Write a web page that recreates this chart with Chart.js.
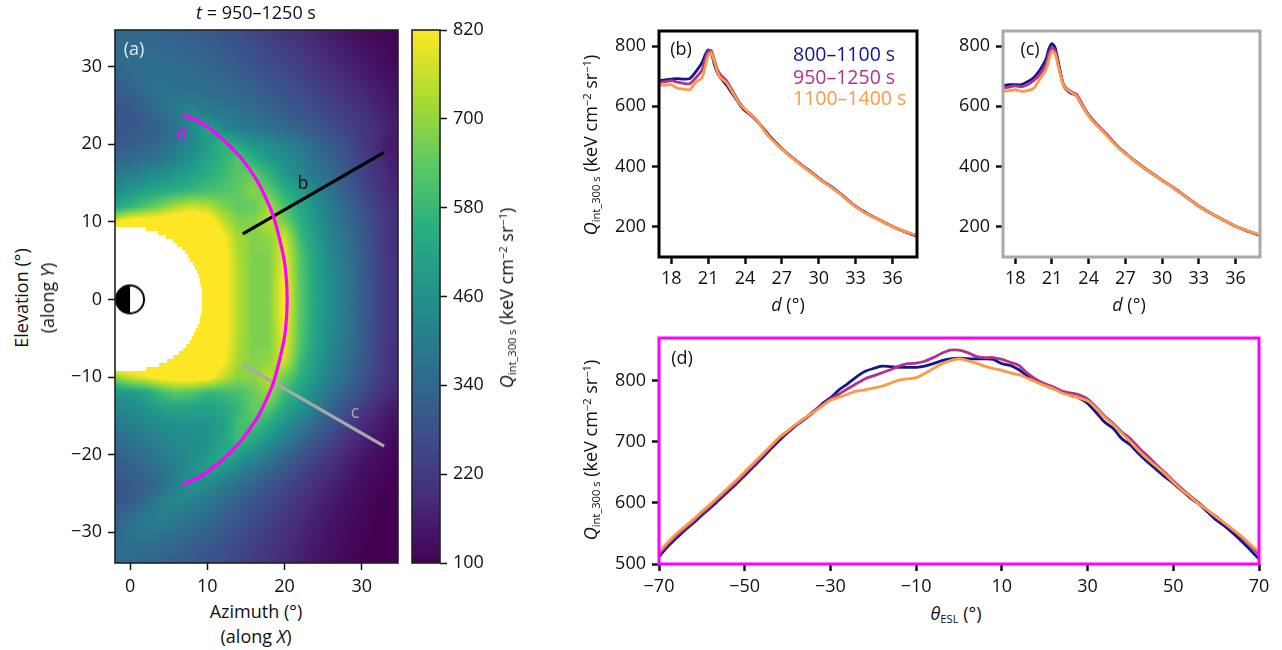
<!DOCTYPE html>
<html>
<head>
<meta charset="utf-8">
<title>Q int 300 s</title>
<script src="https://cdn.jsdelivr.net/npm/chart.js@4/dist/chart.umd.min.js"></script>
<style>
  html, body { margin: 0; padding: 0; background: #fff; width: 1282px; height: 650px; overflow: hidden; }
  body { position: relative; font-family: "Open Sans", sans-serif; color: #111; }
  canvas { position: absolute; }
  .t { position: absolute; white-space: nowrap; font-size: 18px; line-height: 1; transform: translate(-50%, -50%); }
  .r { transform: translate(-50%, -50%) rotate(-90deg); }
  .l { transform: translate(0, -50%); font-size: 19.5px; }
  sub { font-size: .62em; vertical-align: -0.3em; line-height: 0; }
  sup { font-size: .62em; vertical-align: .55em; line-height: 0; }
</style>
</head>
<body>
<canvas id="heat"></canvas>
<canvas id="bar"></canvas>
<canvas id="panelB"></canvas>
<canvas id="panelC"></canvas>
<canvas id="panelD"></canvas>

<div class="t" style="left:256px;top:12px"><i>t</i> = 950–1250 s</div>
<div class="t r" style="left:21px;top:298px">Elevation (°)</div>
<div class="t r" style="left:47px;top:298px">(along <i>Y</i>)</div>
<div class="t" style="left:256px;top:611px">Azimuth (°)</div>
<div class="t" style="left:256px;top:636px">(along <i>X</i>)</div>
<div class="t r" style="left:506px;top:298px"><i>Q</i><sub>int_300 s</sub> (keV cm<sup>−2</sup> sr<sup>−1</sup>)</div>
<div class="t r" style="left:590px;top:145px"><i>Q</i><sub>int_300 s</sub> (keV cm<sup>−2</sup> sr<sup>−1</sup>)</div>
<div class="t r" style="left:590px;top:450px"><i>Q</i><sub>int_300 s</sub> (keV cm<sup>−2</sup> sr<sup>−1</sup>)</div>
<div class="t" style="left:788px;top:304px"><i>d</i> (°)</div>
<div class="t" style="left:1129px;top:304px"><i>d</i> (°)</div>
<div class="t" style="left:956px;top:613px"><i>θ</i><sub>ESL</sub> (°)</div>
<div class="t" style="left:134px;top:48px;color:#e8e8e8">(a)</div>
<div class="t" style="left:681px;top:48px">(b)</div>
<div class="t" style="left:1030px;top:48px">(c)</div>
<div class="t" style="left:682px;top:357px">(d)</div>
<div class="t" style="left:182px;top:133px;color:#ff00ff">d</div>
<div class="t" style="left:303px;top:182px">b</div>
<div class="t" style="left:355px;top:411px;color:#a9a9a9">c</div>
<div class="t l" style="left:793px;top:54px;color:#14148c" id="leg1">800–1100 s</div>
<div class="t l" style="left:793px;top:77px;color:#b0338c" id="leg2">950–1250 s</div>
<div class="t l" style="left:793px;top:98px;color:#fb9a47" id="leg3">1100–1400 s</div>

<script>
// ---- panel (a) map, value read by eye on a 2 degree grid ----
const mapAz = [-2,0,2,4,6,8,10,12,14,16,18,20,22,24,26,28,30,32,34];
const mapEl = [34,32,30,28,26,24,22,20,18,16,14,12,10,8,6,4,2,0,-2,-4,-6,-8,-10,-12,-14,-16,-18,-20,-22,-24,-26,-28,-30,-32,-34];
const mapValues = [
  [345,345,340,335,325,315,305,290,275,255,235,215,195,175,155,140,125,112,105],
  [350,350,350,345,340,330,320,305,290,272,252,232,212,192,172,155,138,122,110],
  [340,352,358,358,352,345,335,322,305,287,268,255,232,210,190,170,152,134,118],
  [315,340,360,368,365,358,350,340,325,308,290,272,252,230,208,188,168,148,128],
  [295,310,342,372,382,375,368,358,345,328,310,292,272,250,228,206,185,162,140],
  [285,295,318,350,395,440,400,385,372,355,335,315,293,272,248,225,202,176,150],
  [285,295,305,328,368,440,510,440,405,385,365,345,322,298,272,245,218,190,160],
  [300,310,320,345,388,435,490,570,520,470,445,420,385,340,305,268,225,180,145],
  [335,350,365,385,422,462,518,560,625,555,490,450,410,365,325,285,240,195,158],
  [390,410,430,452,482,512,548,582,630,650,570,490,430,385,345,290,245,205,168],
  [450,480,510,530,555,575,600,620,640,690,640,550,490,435,370,310,260,215,178],
  [510,570,620,670,730,760,740,680,640,650,720,610,530,460,390,340,283,235,195],
  [790,860,870,880,900,920,880,760,680,680,750,670,560,480,405,355,295,243,198],
  [950,950,950,950,950,930,910,830,715,680,700,770,590,495,420,370,305,247,202],
  [950,950,950,950,950,950,920,845,730,675,680,800,620,510,435,380,310,250,203],
  [950,950,950,950,950,950,930,850,735,675,675,815,630,515,440,385,312,253,204],
  [950,950,950,950,950,950,930,850,735,675,678,825,635,518,445,390,314,255,205],
  [950,950,950,950,950,950,930,845,735,675,680,825,640,520,450,395,315,255,205],
  [950,950,950,950,950,950,930,850,735,675,678,825,635,518,445,390,314,255,205],
  [950,950,950,950,950,950,930,850,735,675,675,815,630,515,440,385,312,253,204],
  [950,950,950,950,950,950,920,845,730,675,680,800,620,510,435,380,310,250,203],
  [950,950,950,950,950,930,910,830,715,680,700,770,590,495,420,370,305,247,202],
  [690,760,800,840,860,870,850,760,690,690,750,660,560,475,400,350,290,238,196],
  [470,490,520,590,640,620,580,590,610,650,710,590,510,440,370,322,268,218,180],
  [430,440,465,505,520,510,500,530,570,650,630,530,470,400,335,275,225,185,152],
  [395,410,425,450,465,465,470,495,600,610,540,470,410,345,290,238,195,162,132],
  [355,375,395,420,440,450,460,510,595,530,470,410,350,295,250,205,170,140,118],
  [320,340,365,395,425,445,480,550,500,450,400,345,295,255,215,178,148,125,110],
  [300,315,340,370,410,450,510,470,420,380,335,295,258,220,188,158,132,115,105],
  [285,300,320,350,410,470,440,395,360,325,290,258,225,195,168,142,122,108,102],
  [285,305,345,405,430,415,385,350,320,290,262,232,205,178,152,130,115,104,100],
  [310,355,395,410,395,375,350,322,295,268,242,215,190,165,142,122,110,102,100],
  [340,372,385,375,362,342,322,298,275,250,225,200,178,155,135,118,106,100,100],
  [355,360,355,345,332,315,298,278,258,235,212,190,168,148,130,114,104,100,100],
  [340,340,335,325,312,298,282,264,245,223,203,182,162,143,126,112,102,100,100]
];
// white occulted area, right edge per elevation band
const holeEl = [9.3,8.8,8.3,7.8,7.3,6.8,6.3,5.8,5.3,4.8,4.3,3.8,3.3,2.8,2.3,1.8,1.3,0.8,0.3,-0.2,-0.7,-1.2,-1.7,-2.2,-2.7,-3.2,-3.7,-4.2,-4.7,-5.2,-5.7,-6.2,-6.7,-7.2,-7.7,-8.2,-8.7];
const holeAz = [2.0,3.6,4.7,5.5,6.1,6.7,7.1,7.5,7.8,8.1,8.4,8.7,8.9,9.0,9.1,9.2,9.3,9.3,9.3,9.3,9.3,9.3,9.2,9.1,9.0,8.8,8.6,8.3,8.0,7.7,7.3,6.8,6.3,5.6,4.8,3.7,2.0];

const lineBAz = [14.6,32.9];
const lineBEl = [8.45,18.95];
const lineCAz = [14.6,32.9];
const lineCEl = [-8.4,-18.9];
const arcAz = [6.85,9.1,11.7,14.3,16.45,17.75,18.6,19.5,20.1,20.35,20.1,19.5,18.6,17.75,16.45,14.3,11.7,9.1,6.85];
const arcEl = [23.8,22.8,20.9,18.3,15.3,12.7,10.6,7.2,4.15,0,-4.15,-7.2,-10.6,-12.7,-15.3,-18.3,-20.9,-22.8,-23.8];

const mapXTicks = [0,10,20,30];
const mapYTicks = [-30,-20,-10,0,10,20,30];
const barTicks = [100,220,340,460,580,700,820];
const viridisStops = ['#440154','#472d7b','#3b528b','#2c728e','#21918c','#28ae80','#5ec962','#addc30','#fde725'];

// ---- panels (b) and (c) ----
const dValues = [17,17.5,18,18.5,19,19.5,20,20.5,20.75,21,21.25,21.5,21.75,22,22.5,23,23.5,24,24.5,25,25.5,26,26.5,27,27.5,28,28.5,29,29.5,30,30.5,31,31.5,32,32.5,33,33.5,34,34.5,35,35.5,36,36.5,37,37.5,38];
const b800 = [685,688,690,692,690,692,715,745,770,787,780,740,712,695,670,640,610,585,570,550,526,502,480,460,442,425,409,393,378,362,347,334,319,302,285,268,255,243,232,222,211,201,192,184,176,169];
const b950 = [680,682,685,680,676,675,695,720,755,782,785,755,722,705,685,650,615,590,572,552,525,500,478,459,441,424,408,392,377,361,346,333,318,301,284,267,254,242,232,222,211,201,193,185,177,171];
const b1100 = [672,670,672,660,657,655,680,695,730,768,778,750,715,695,678,645,612,590,572,552,522,497,477,458,440,423,407,391,376,360,345,332,317,300,283,266,253,241,231,221,210,200,192,185,178,173];
const c800 = [668,672,672,672,682,695,720,755,790,808,795,750,700,665,645,635,600,570,545,525,505,483,462,445,428,412,397,383,369,355,342,328,314,299,284,269,257,245,234,223,212,202,194,186,178,171];
const c950 = [660,664,668,665,672,685,705,740,775,795,785,745,700,668,650,640,605,572,548,527,505,482,461,444,427,411,396,382,368,354,341,327,313,298,283,268,256,245,234,223,212,202,194,186,179,172];
const c1100 = [650,652,655,650,652,660,690,720,755,782,775,735,695,665,648,635,600,568,544,524,502,480,460,443,427,411,396,382,368,354,341,327,313,298,283,268,256,245,234,223,212,202,194,187,180,174];
const dXTicks = [18,21,24,27,30,33,36];
const dYTicks = [200,400,600,800];

// ---- panel (d) ----
const thetaValues = [-70,-68,-66,-64,-62,-60,-58,-56,-54,-52,-50,-48,-46,-44,-42,-40,-38,-36,-34,-32,-30,-28,-26,-24,-22,-20,-18,-16,-14,-12,-10,-8,-6,-4,-2,0,2,4,6,8,10,12,14,16,18,20,22,24,26,28,30,32,34,36,38,40,42,44,46,48,50,52,54,56,58,60,62,64,66,68,70];
const e800 = [512,528,542,555,567,580,592,605,618,631,645,659,673,688,702,715,727,737,748,762,772,785,795,806,815,820,824,823,822,822,822,824,828,833,836,837,836,836,836,835,828,825,818,808,800,793,787,782,776,772,763,748,732,722,705,695,680,667,655,643,632,620,608,598,585,572,562,550,537,523,508];
const e950 = [516,532,546,558,570,583,595,608,621,634,648,662,676,691,705,717,728,738,750,760,770,778,787,795,803,808,813,818,824,828,829,832,838,845,850,850,846,840,838,838,835,830,825,812,802,795,790,783,780,777,770,757,742,730,716,705,690,677,663,650,636,623,611,600,588,578,566,555,543,530,516];
const e1100 = [520,535,549,561,573,586,598,611,624,637,651,665,679,693,707,718,729,739,748,758,768,773,778,783,785,788,791,796,801,803,805,812,820,828,833,836,833,829,824,820,817,813,810,804,798,792,787,780,776,772,767,755,740,728,714,700,685,672,660,648,634,621,610,598,588,577,567,556,545,532,520];
const thetaTicks = [-70,-50,-30,-10,10,30,50,70];
const eYTicks = [500,600,700,800];

const colors = ['#14148c', '#b0338c', '#fb9a47'];
const tickFont = { family: '"Open Sans", sans-serif', size: 18 };

// ==============================
// HELPER FUNCTIONS
// ==============================

function pairs(xs, ys) {
  return xs.map((x, i) => ({ x: x, y: ys[i] }));
}

function minusLabel(v) {
  return String(v).replace('-', '\u2212');
}

const stopRgb = viridisStops.map(h => [1, 3, 5].map(i => parseInt(h.substr(i, 2), 16)));

function viridis(value) {
  const t = Math.min(1, Math.max(0, (value - 100) / 720)) * (stopRgb.length - 1);
  const i = Math.min(stopRgb.length - 2, Math.floor(t));
  const f = t - i;
  return stopRgb[i].map((c, k) => Math.round(c + (stopRgb[i + 1][k] - c) * f));
}

// bilinear lookup in the map grid
function mapLookup(az, el) {
  const fx = Math.min(mapAz.length - 1.001, Math.max(0, (az - mapAz[0]) / 2));
  const fy = Math.min(mapEl.length - 1.001, Math.max(0, (mapEl[0] - el) / 2));
  const ix = Math.floor(fx), iy = Math.floor(fy);
  const dx = fx - ix, dy = fy - iy;
  const top = mapValues[iy][ix] * (1 - dx) + mapValues[iy][ix + 1] * dx;
  const bot = mapValues[iy + 1][ix] * (1 - dx) + mapValues[iy + 1][ix + 1] * dx;
  return top * (1 - dy) + bot * dy;
}

function inHole(az, el) {
  for (let i = 0; i < holeEl.length; i++) {
    if (el <= holeEl[i] && el > holeEl[i] - 0.5) return az < holeAz[i];
  }
  return false;
}

// paints a pixel field inside the chart area, going through the chart's scales
function paintField(chart, fn) {
  const a = chart.chartArea;
  const w = Math.round(a.right - a.left), h = Math.round(a.bottom - a.top);
  const off = document.createElement('canvas');
  off.width = w; off.height = h;
  const octx = off.getContext('2d');
  const img = octx.createImageData(w, h);
  for (let py = 0; py < h; py++) {
    const yv = chart.scales.y.getValueForPixel(a.top + py + 0.5);
    for (let px = 0; px < w; px++) {
      const xv = chart.scales.x.getValueForPixel(a.left + px + 0.5);
      const c = fn(xv, yv);
      const k = (py * w + px) * 4;
      img.data[k] = c[0]; img.data[k + 1] = c[1]; img.data[k + 2] = c[2]; img.data[k + 3] = 255;
    }
  }
  octx.putImageData(img, 0, 0);
  chart.ctx.drawImage(off, a.left, a.top);
}

const spinePlugin = {
  id: 'spine',
  afterDatasetsDraw(chart, args, opts) {
    const a = chart.chartArea, ctx = chart.ctx;
    ctx.save();
    ctx.strokeStyle = opts.color;
    ctx.lineWidth = opts.width;
    ctx.strokeRect(a.left, a.top, a.right - a.left, a.bottom - a.top);
    ctx.restore();
  }
};

const fieldPlugin = {
  id: 'field',
  beforeDatasetsDraw(chart, args, opts) {
    if (opts.fn) paintField(chart, opts.fn);
  }
};

function axis(o) {
  return {
    type: 'linear',
    position: o.position,
    min: o.min,
    max: o.max,
    grid: { drawOnChartArea: false, drawTicks: true, tickLength: o.tickLength || 7, tickColor: '#111', tickWidth: o.tickWidth || 1.5 },
    border: { display: false },
    ticks: {
      font: tickFont, color: '#111', padding: o.pad || 6, autoSkip: false, maxRotation: 0,
      callback: v => minusLabel(v)
    },
    afterBuildTicks: s => { s.ticks = o.ticks.map(v => ({ value: v })); },
    afterFit: s => {
      if (o.size !== undefined) {
        if (s.isHorizontal()) s.height = o.size; else s.width = o.size;
      }
    }
  };
}

// canvas is laid out so the plot box lands on given page coordinates
function makeChart(id, box, datasets, xAxis, yAxis, spine, field) {
  const onRight = yAxis.position === 'right';
  const m = onRight ? { l: 8, t: 26, r: 60, b: 36 } : { l: 62, t: 26, r: 24, b: 36 };
  const el = document.getElementById(id);
  el.width = box.right - box.left + m.l + m.r;
  el.height = box.bottom - box.top + m.t + m.b;
  el.style.left = (box.left - m.l) + 'px';
  el.style.top = (box.top - m.t) + 'px';
  xAxis.size = m.b;
  yAxis.size = onRight ? m.r : m.l;
  return new Chart(el.getContext('2d'), {
    type: 'scatter',
    data: { datasets: datasets },
    options: {
      responsive: false,
      animation: false,
      layout: { padding: onRight ? { top: m.t, left: m.l, right: 0, bottom: 0 } : { top: m.t, right: m.r, left: 0, bottom: 0 } },
      plugins: {
        legend: { display: false },
        tooltip: { enabled: false },
        spine: spine,
        field: { fn: field }
      },
      scales: { x: axis(xAxis), y: axis(yAxis) }
    },
    plugins: [fieldPlugin, spinePlugin]
  });
}

function curve(xs, ys, color, w, tension) {
  return { data: pairs(xs, ys), showLine: true, borderColor: color, borderWidth: w || 2.8, pointRadius: 0, tension: tension === undefined ? 0.25 : tension };
}

// half black half white disc marker
function sunIcon() {
  const c = document.createElement('canvas');
  c.width = 34; c.height = 34;
  const g = c.getContext('2d');
  g.fillStyle = '#fff';
  g.beginPath(); g.arc(17, 17, 14.5, 0, Math.PI * 2); g.fill();
  g.fillStyle = '#000';
  g.beginPath(); g.arc(17, 17, 14.5, Math.PI / 2, Math.PI * 1.5); g.fill();
  g.strokeStyle = '#000'; g.lineWidth = 2;
  g.beginPath(); g.arc(17, 17, 14, 0, Math.PI * 2); g.stroke();
  return c;
}

// ==============================
// BUILD CHARTS
// ==============================

makeChart('heat', { left: 115, right: 398, top: 30, bottom: 563 }, [
  { data: [{ x: 0, y: 0 }], pointStyle: sunIcon(), pointRadius: 17 },
  curve(arcAz, arcEl, '#ff00ff', 3.2, 0.4),
  curve(lineBAz, lineBEl, '#000', 3.2, 0),
  curve(lineCAz, lineCEl, '#a9a9a9', 3.2, 0)
], { min: -1.95, max: 34.7, ticks: mapXTicks }, { min: -33.95, max: 34.7, ticks: mapYTicks },
  { color: '#222', width: 1.6 },
  (az, el) => inHole(az, el) ? [255, 255, 255] : viridis(mapLookup(az, el)));

makeChart('bar', { left: 412, right: 440, top: 30, bottom: 563 }, [
  { data: [] }
], { min: 0, max: 1, ticks: [] }, { min: 100, max: 820, ticks: barTicks, position: 'right' },
  { color: '#222', width: 1.6 },
  (x, v) => viridis(v));

makeChart('panelB', { left: 659, right: 917, top: 31, bottom: 257 }, [
  curve(dValues, b800, colors[0]),
  curve(dValues, b950, colors[1]),
  curve(dValues, b1100, colors[2])
].reverse(), { min: 17, max: 38, ticks: dXTicks, tickWidth: 2.5, pad: 4 }, { min: 100, max: 850, ticks: dYTicks, tickWidth: 2.5 },
  { color: '#000', width: 3 });

makeChart('panelC', { left: 1003, right: 1260, top: 31, bottom: 257 }, [
  curve(dValues, c1100, colors[2]),
  curve(dValues, c950, colors[1]),
  curve(dValues, c800, colors[0])
], { min: 17, max: 38, ticks: dXTicks, tickWidth: 2.5, pad: 4 }, { min: 100, max: 850, ticks: dYTicks, tickWidth: 2.5 },
  { color: '#a9a9a9', width: 3 });

makeChart('panelD', { left: 659, right: 1259, top: 338, bottom: 564 }, [
  curve(thetaValues, e1100, colors[2]),
  curve(thetaValues, e950, colors[1]),
  curve(thetaValues, e800, colors[0])
], { min: -70, max: 70, ticks: thetaTicks, tickWidth: 2.5, pad: 5 }, { min: 500, max: 870, ticks: eYTicks, tickWidth: 2.5 },
  { color: '#ff00ff', width: 3 });
</script>
</body>
</html>
